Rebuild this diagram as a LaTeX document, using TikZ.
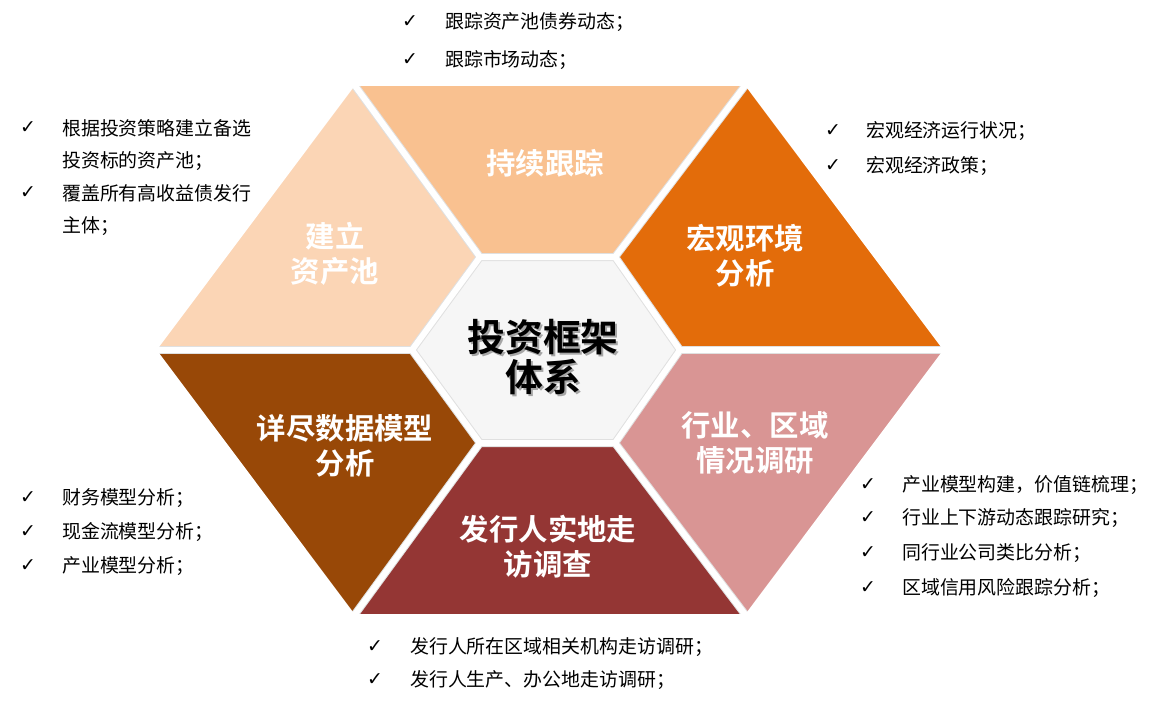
\documentclass[tikz,border=0pt]{standalone}
\usepackage{fontspec}
\newfontfamily\cjk[BoldFont={Noto Sans CJK SC Bold}]{Noto Sans CJK SC}
\newfontfamily\symb{DejaVu Sans}
\definecolor{trackc}{HTML}{F9C190}
\definecolor{poolc}{HTML}{FBD5B5}
\definecolor{macroc}{HTML}{E36C0A}
\definecolor{industryc}{HTML}{D99594}
\definecolor{visitc}{HTML}{943634}
\definecolor{modelc}{HTML}{984807}
\definecolor{corec}{HTML}{F6F6F6}
\tikzset{
  gap/.style={draw=white, line width=6bp, line join=miter},
  edge/.style={draw=black!12, line width=8bp, line join=miter},
  title/.style={text=white, align=center, font=\cjk\bfseries\fontsize{29.5}{35}\selectfont},
  tickmark/.style={anchor=center, font=\symb\bfseries\fontsize{19}{20}\selectfont},
  bullettext/.style={anchor=west, inner sep=0pt, font=\cjk\fontsize{19}{21}\selectfont}
}
\begin{document}
\begin{tikzpicture}[x=1bp,y=-1bp]
	\useasboundingbox (0,0) rectangle (1165,703);
	% outer and inner hexagon corners
	\coordinate (o0) at (947,350);
	\coordinate (o1) at (747,83);
	\coordinate (o2) at (353,83);
	\coordinate (o3) at (153,350);
	\coordinate (o4) at (353,617);
	\coordinate (o5) at (747,617);
	\coordinate (i0) at (680,350);
	\coordinate (i1) at (615,257);
	\coordinate (i2) at (480,257);
	\coordinate (i3) at (412,350);
	\coordinate (i4) at (480,443);
	\coordinate (i5) at (615,443);
	
	% pieces
	\fill[trackc] (o1) -- (o2) -- (i2) -- (i1) -- cycle;
	\fill[poolc] (o2) -- (o3) -- (i3) -- (i2) -- cycle;
	\fill[modelc] (o3) -- (o4) -- (i4) -- (i3) -- cycle;
	\fill[visitc] (o4) -- (o5) -- (i5) -- (i4) -- cycle;
	\fill[industryc] (o5) -- (o0) -- (i0) -- (i5) -- cycle;
	\fill[macroc] (o0) -- (o1) -- (i1) -- (i0) -- cycle;
	\fill[corec] (i0) -- (i1) -- (i2) -- (i3) -- (i4) -- (i5) -- cycle;
	\draw[edge] (i0) -- (i1) -- (i2) -- (i3) -- (i4) -- (i5) -- cycle;
	\foreach \k in {0,...,5}
		\draw[edge] (o\k) -- (i\k);
	\draw[gap] (o0) -- (o1) -- (o2) -- (o3) -- (o4) -- (o5) -- cycle;
	\draw[gap] (i0) -- (i1) -- (i2) -- (i3) -- (i4) -- (i5) -- cycle;
	\foreach \k in {0,...,5}
		\draw[gap] (o\k) -- (i\k);
	
	% titles
	\node[title] (track) at (545,163) {持续跟踪};
	\node[title] (pool) at (335,254) {建立\\资产池};
	\node[title] (macro) at (745,256) {宏观环境\\分析};
	\node[title] (model) at (345,446) {详尽数据模型\\分析};
	\node[title] (industry) at (755,443) {行业、区域\\情况调研};
	\node[title] (visit) at (548,547) {发行人实地走\\访调查};
	\node[align=center, text=black!35, font=\cjk\bfseries\fontsize{38}{40}\selectfont] (coreshadow) at (545,359) {投资框架\\体系};
	\node[align=center, font=\cjk\bfseries\fontsize{38}{40}\selectfont] (core) at (543,357) {投资框架\\体系};
	
	% bullets
	\node[tickmark] (t1) at (410,22) {✓};
	\node[bullettext] (b1) at (445,22) {跟踪资产池债券动态；};
	\node[tickmark] (t2) at (410,60) {✓};
	\node[bullettext] (b2) at (445,60) {跟踪市场动态；};
	
	\node[tickmark] (t3) at (28,128) {✓};
	\node[bullettext] (b3) at (62,128) {根据投资策略建立备选};
	\node[bullettext] (b3b) at (62,161) {投资标的资产池；};
	\node[tickmark] (t4) at (28,193) {✓};
	\node[bullettext] (b4) at (62,193) {覆盖所有高收益债发行};
	\node[bullettext] (b4b) at (62,226) {主体；};
	
	\node[tickmark] (t5) at (833,131) {✓};
	\node[bullettext] (b5) at (866,131) {宏观经济运行状况；};
	\node[tickmark] (t6) at (833,166) {✓};
	\node[bullettext] (b6) at (866,166) {宏观经济政策；};
	
	\node[tickmark] (t7) at (868,485) {✓};
	\node[bullettext] (b7) at (902,485) {产业模型构建，价值链梳理；};
	\node[tickmark] (t8) at (868,518) {✓};
	\node[bullettext] (b8) at (902,518) {行业上下游动态跟踪研究；};
	\node[tickmark] (t9) at (868,553) {✓};
	\node[bullettext] (b9) at (902,553) {同行业公司类比分析；};
	\node[tickmark] (t10) at (868,588) {✓};
	\node[bullettext] (b10) at (902,588) {区域信用风险跟踪分析；};
	
	\node[tickmark] (t11) at (28,498) {✓};
	\node[bullettext] (b11) at (62,498) {财务模型分析；};
	\node[tickmark] (t12) at (28,532) {✓};
	\node[bullettext] (b12) at (62,532) {现金流模型分析；};
	\node[tickmark] (t13) at (28,566) {✓};
	\node[bullettext] (b13) at (62,566) {产业模型分析；};
	
	\node[tickmark] (t14) at (375,647) {✓};
	\node[bullettext] (b14) at (410,647) {发行人所在区域相关机构走访调研；};
	\node[tickmark] (t15) at (375,680) {✓};
	\node[bullettext] (b15) at (410,680) {发行人生产、办公地走访调研；};
\end{tikzpicture}
\end{document}
